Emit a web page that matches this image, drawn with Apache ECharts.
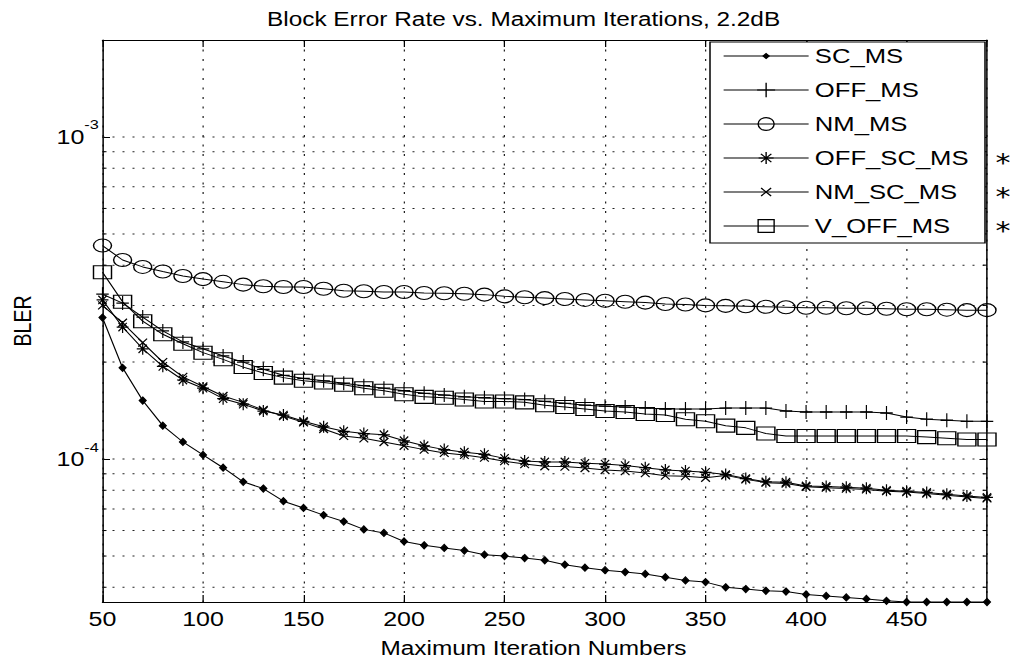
<!DOCTYPE html>
<html>
<head>
<meta charset="utf-8">
<script src="https://cdn.jsdelivr.net/npm/echarts@6/dist/echarts.min.js"></script>
<style>
html,body{margin:0;padding:0;background:#fff;overflow:hidden;}
#wrap{width:1015px;height:668px;overflow:hidden;background:#fff;}
#chart{width:812px;height:668px;transform:scaleX(1.25);transform-origin:0 0;}
</style>
</head>
<body>
<div id="wrap"><div id="chart"></div></div>
<script>
// ---------- data ----------
const iterations = [50,60,70,80,90,100,110,120,130,140,150,160,170,180,190,200,210,220,230,240,250,260,270,280,290,300,310,320,330,340,350,360,370,380,390,400,410,420,430,440,450,460,470,480,490];

const scMs = [2.75e-4,1.92e-4,1.52e-4,1.27e-4,1.13e-4,1.03e-4,9.4e-5,8.5e-5,8.1e-5,7.4e-5,7.05e-5,6.7e-5,6.4e-5,6.05e-5,5.9e-5,5.55e-5,5.4e-5,5.3e-5,5.2e-5,5.05e-5,5.0e-5,4.93e-5,4.85e-5,4.7e-5,4.6e-5,4.52e-5,4.46e-5,4.4e-5,4.3e-5,4.2e-5,4.15e-5,4.0e-5,3.95e-5,3.9e-5,3.88e-5,3.8e-5,3.76e-5,3.72e-5,3.68e-5,3.63e-5,3.6e-5,3.6e-5,3.6e-5,3.6e-5,3.6e-5];

const offMs = [3.25e-4,3.05e-4,2.76e-4,2.5e-4,2.31e-4,2.2e-4,2.09e-4,2.0e-4,1.9e-4,1.82e-4,1.78e-4,1.75e-4,1.72e-4,1.69e-4,1.66e-4,1.63e-4,1.6e-4,1.58e-4,1.56e-4,1.55e-4,1.54e-4,1.53e-4,1.51e-4,1.49e-4,1.47e-4,1.46e-4,1.45e-4,1.44e-4,1.43e-4,1.43e-4,1.43e-4,1.44e-4,1.44e-4,1.44e-4,1.41e-4,1.4e-4,1.4e-4,1.4e-4,1.4e-4,1.39e-4,1.35e-4,1.33e-4,1.32e-4,1.31e-4,1.31e-4];

const nmMs = [4.6e-4,4.15e-4,3.95e-4,3.82e-4,3.7e-4,3.62e-4,3.55e-4,3.48e-4,3.44e-4,3.42e-4,3.42e-4,3.38e-4,3.33e-4,3.32e-4,3.3e-4,3.3e-4,3.28e-4,3.27e-4,3.26e-4,3.24e-4,3.2e-4,3.18e-4,3.16e-4,3.14e-4,3.12e-4,3.1e-4,3.08e-4,3.06e-4,3.03e-4,3.02e-4,3.0e-4,2.99e-4,2.98e-4,2.97e-4,2.96e-4,2.95e-4,2.95e-4,2.94e-4,2.94e-4,2.93e-4,2.92e-4,2.92e-4,2.91e-4,2.9e-4,2.9e-4];

const offScMs = [3.12e-4,2.57e-4,2.2e-4,1.94e-4,1.76e-4,1.66e-4,1.54e-4,1.48e-4,1.41e-4,1.37e-4,1.31e-4,1.26e-4,1.22e-4,1.2e-4,1.19e-4,1.14e-4,1.1e-4,1.07e-4,1.05e-4,1.035e-4,1.005e-4,9.86e-5,9.8e-5,9.8e-5,9.7e-5,9.65e-5,9.55e-5,9.4e-5,9.25e-5,9.18e-5,9.1e-5,8.95e-5,8.7e-5,8.5e-5,8.48e-5,8.25e-5,8.22e-5,8.18e-5,8.12e-5,8.0e-5,7.95e-5,7.88e-5,7.78e-5,7.68e-5,7.6e-5];

const nmScMs = [3.0e-4,2.65e-4,2.3e-4,2.0e-4,1.8e-4,1.68e-4,1.57e-4,1.5e-4,1.42e-4,1.36e-4,1.3e-4,1.24e-4,1.18e-4,1.16e-4,1.13e-4,1.1e-4,1.07e-4,1.045e-4,1.03e-4,1.01e-4,9.85e-5,9.65e-5,9.5e-5,9.48e-5,9.38e-5,9.25e-5,9.18e-5,9.05e-5,8.88e-5,8.85e-5,8.75e-5,8.9e-5,8.65e-5,8.45e-5,8.4e-5,8.2e-5,8.15e-5,8.1e-5,8.05e-5,7.95e-5,7.9e-5,7.82e-5,7.72e-5,7.62e-5,7.55e-5];

const vOffMs = [3.8e-4,3.08e-4,2.68e-4,2.44e-4,2.28e-4,2.14e-4,2.04e-4,1.93e-4,1.85e-4,1.79e-4,1.75e-4,1.73e-4,1.7e-4,1.66e-4,1.63e-4,1.59e-4,1.56e-4,1.55e-4,1.53e-4,1.51e-4,1.51e-4,1.5e-4,1.47e-4,1.45e-4,1.43e-4,1.41e-4,1.4e-4,1.38e-4,1.37e-4,1.33e-4,1.31e-4,1.27e-4,1.25e-4,1.2e-4,1.18e-4,1.18e-4,1.18e-4,1.18e-4,1.18e-4,1.18e-4,1.18e-4,1.17e-4,1.16e-4,1.15e-4,1.15e-4];

const seriesNames = ['SC_MS','OFF_MS','NM_MS','OFF_SC_MS','NM_SC_MS','V_OFF_MS'];
const seriesValues = [scMs, offMs, nmMs, offScMs, nmScMs, vOffMs];

// axis settings
const xMin = 50, xMax = 490, xInterval = 50;
const yMin = 3.6e-5, yMax = 2e-3;
// horizontal log grid lines (major and minor)
const yGridValues = [4e-5,5e-5,6e-5,7e-5,8e-5,9e-5,1e-4,2e-4,3e-4,4e-4,5e-4,6e-4,7e-4,8e-4,9e-4,1e-3];
const annotationMarks = ['*','*','*'];

// ---------- layout / style ----------
const S = 1.25;              // horizontal stretch of the scanned figure
const px = v => v / S;       // real px -> chart coordinate (x only)
const FONT = "'Liberation Sans', Arial, Helvetica, sans-serif";

const symbols = [
  'diamond',
  'path://M5,0L5,10M0,5L10,5',
  'path://M0,5a5,5 0 1,0 10,0a5,5 0 1,0 -10,0',
  'path://M5,0L5,10M0,5L10,5M1.5,1.5L8.5,8.5M1.5,8.5L8.5,1.5',
  'path://M0,0L10,10M0,10L10,0',
  'rect'
];
const symbolSizes = [[5.5,7],[10,14],[14.4,13],[9.5,12],[7,8],[14.4,13]];
const fills = ['#000','none','none','none','none','none'];
const legendRows = [56,90,124,158,192,226];
const legendIconH = [6,18,16,15,10,16];

const chart = echarts.init(document.getElementById('chart'), null, {renderer: 'svg'});

function gridRender(params, api) {
  const cs = params.coordSys;
  const y = api.coord([api.value(0), api.value(1)])[1];
  const lg = Math.log10(api.value(1));
  const major = Math.abs(lg - Math.round(lg)) < 1e-6;
  const children = [{
    type: 'line',
    shape: {x1: cs.x, y1: y, x2: cs.x + cs.width, y2: y},
    style: {stroke: '#222', lineWidth: 1, lineDash: [1.6, 6.4]}
  }];
  if (!major) {
    children.push({type: 'line', shape: {x1: cs.x, y1: y, x2: cs.x + 3.2, y2: y}, style: {stroke: '#000', lineWidth: 1}});
    children.push({type: 'line', shape: {x1: cs.x + cs.width - 3.2, y1: y, x2: cs.x + cs.width, y2: y}, style: {stroke: '#000', lineWidth: 1}});
  }
  return {type: 'group', children};
}

const lineSeries = seriesNames.map((name, i) => ({
  name,
  type: 'line',
  data: iterations.map((x, j) => [x, seriesValues[i][j]]),
  symbol: symbols[i],
  symbolSize: symbolSizes[i],
  symbolKeepAspect: false,
  showSymbol: true,
  showAllSymbol: true,
  clip: false,
  z: 3,
  lineStyle: {color: '#000', width: 1},
  itemStyle: {color: fills[i], borderColor: '#000', borderWidth: 1.1},
  emphasis: {disabled: true}
}));

const legends = seriesNames.map((name, i) => ({
  data: [name],
  left: px(723),
  top: legendRows[i] - 12,
  orient: 'vertical',
  padding: 0,
  itemGap: 0,
  itemWidth: px(85),
  itemHeight: legendIconH[i],
  selectedMode: false,
  z: 6,
  textStyle: {fontFamily: FONT, fontSize: 20.5, color: '#000', lineHeight: 24},
  itemStyle: {color: fills[i], borderColor: '#000', borderWidth: 1.1},
  lineStyle: {color: '#000', width: 1}
}));

const graphics = [{
  type: 'rect',
  z: 5,
  shape: {x: px(710), y: 42, width: px(985 - 710), height: 243 - 42},
  style: {fill: '#fff', stroke: '#000', lineWidth: 1.2}
}].concat(annotationMarks.map((m, k) => ({
  type: 'text',
  z: 5,
  x: px(1003),
  y: legendRows[3 + k] + 5,
  style: {text: m, fontSize: 24, fontFamily: "'DejaVu Sans', sans-serif", fill: '#000', align: 'center', verticalAlign: 'middle'}
})));

const axisLineStyle = {color: '#000', width: 1.2};

const option = {
  animation: false,
  backgroundColor: '#fff',
  title: {
    text: 'Block Error Rate vs. Maximum Iterations, 2.2dB',
    left: px(267),
    top: 9,
    padding: 0,
    textStyle: {fontFamily: FONT, fontSize: 19.5, fontWeight: 'normal', color: '#000', lineHeight: 20}
  },
  grid: {left: px(101), right: 812 - px(987), top: 40, bottom: 668 - 602, containLabel: false},
  legend: legends,
  graphic: {elements: graphics},
  xAxis: [{
    type: 'value', min: xMin, max: xMax, interval: xInterval, position: 'bottom',
    axisLine: {show: true, lineStyle: axisLineStyle},
    axisTick: {show: true, inside: true, length: 7, lineStyle: {color: '#000', width: 1}},
    axisLabel: {margin: 7.5, fontSize: 20, color: '#000', fontFamily: FONT, showMaxLabel: false},
    splitLine: {show: true, lineStyle: {color: '#222', width: 1, type: [2, 7.5]}},
    name: 'Maximum Iteration Numbers', nameLocation: 'middle', nameGap: 36,
    nameTextStyle: {fontSize: 19.5, color: '#000', fontFamily: FONT, padding: [0, 18, 0, 0]}
  }, {
    type: 'value', min: xMin, max: xMax, interval: xInterval, position: 'top',
    axisLine: {show: true, lineStyle: axisLineStyle},
    axisTick: {show: true, inside: true, length: 7, lineStyle: {color: '#000', width: 1}},
    axisLabel: {show: false},
    splitLine: {show: false}
  }],
  yAxis: [{
    type: 'log', logBase: 10, min: yMin, max: yMax, position: 'left',
    axisLine: {show: true, lineStyle: axisLineStyle},
    axisTick: {show: true, inside: true, length: 6, lineStyle: {color: '#000', width: 1}},
    axisLabel: {
      margin: 3,
      formatter: v => {
        const e = Math.log10(v);
        if (Math.abs(e - Math.round(e)) > 1e-6) return '';
        return '{a|10}{b|' + Math.round(e) + '}';
      },
      rich: {
        a: {fontSize: 20, fontFamily: FONT, color: '#000'},
        b: {fontSize: 13, fontFamily: FONT, color: '#000', padding: [0, 0, 24, 0]}
      }
    },
    splitLine: {show: false},
    name: 'BLER', nameLocation: 'middle', nameGap: 54,
    nameTextStyle: {fontSize: 19.5, color: '#000', fontFamily: FONT}
  }, {
    type: 'log', logBase: 10, min: yMin, max: yMax, position: 'right',
    axisLine: {show: true, lineStyle: axisLineStyle},
    axisTick: {show: true, inside: true, length: 6, lineStyle: {color: '#000', width: 1}},
    axisLabel: {show: false},
    splitLine: {show: false}
  }],
  series: [{
    type: 'custom',
    name: 'grid',
    silent: true,
    z: 1,
    renderItem: gridRender,
    data: yGridValues.map(v => [xMin, v]),
    encode: {x: 0, y: 1}
  }].concat(lineSeries)
};

chart.setOption(option);
</script>
</body>
</html>
